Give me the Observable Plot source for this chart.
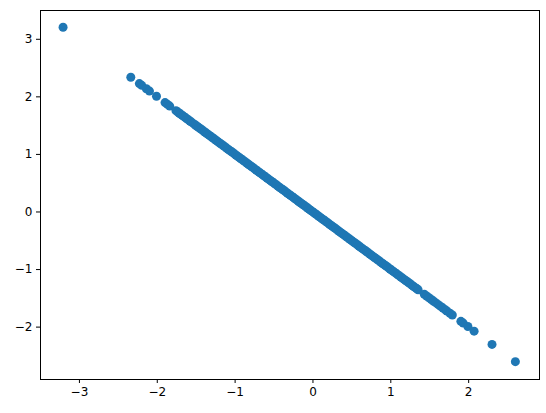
<!DOCTYPE html>
<html>
<head>
<meta charset="utf-8">
<script src="https://cdn.jsdelivr.net/npm/d3@7"></script>
<script src="https://cdn.jsdelivr.net/npm/@observablehq/plot@0.6"></script>
<style>
  html, body { margin: 0; padding: 0; background: #fff; }
  #chart svg { display: block; }
</style>
</head>
<body>
<div id="chart"></div>
<script>
const xValues = [
  -3.21, -2.34, -2.23, -2.20, -2.14, -2.10, -2.01, -1.90, -1.87, -1.84,
  -1.76, -1.74, -1.72, -1.70, -1.68, -1.66, -1.64, -1.62, -1.60, -1.58,
  -1.56, -1.53, -1.51, -1.49, -1.47, -1.45, -1.43, -1.41, -1.39, -1.37,
  -1.35, -1.33, -1.31, -1.29, -1.27, -1.25, -1.23, -1.21, -1.19, -1.17,
  -1.15, -1.13, -1.11, -1.09, -1.07, -1.05, -1.03, -1.01, -0.99, -0.97,
  -0.95, -0.93, -0.91, -0.89, -0.87, -0.85, -0.83, -0.81, -0.79, -0.77,
  -0.75, -0.73, -0.71, -0.69, -0.67, -0.65, -0.63, -0.61, -0.59, -0.57,
  -0.55, -0.53, -0.51, -0.49, -0.47, -0.45, -0.43, -0.41, -0.39, -0.37,
  -0.35, -0.33, -0.31, -0.29, -0.27, -0.25, -0.23, -0.21, -0.19, -0.17,
  -0.15, -0.13, -0.11, -0.09, -0.07, -0.05, -0.03, -0.01, 0.01, 0.03,
  0.05, 0.07, 0.09, 0.11, 0.13, 0.15, 0.17, 0.19, 0.21, 0.23,
  0.25, 0.27, 0.29, 0.31, 0.33, 0.35, 0.37, 0.39, 0.41, 0.43,
  0.45, 0.47, 0.49, 0.51, 0.53, 0.55, 0.57, 0.59, 0.61, 0.63,
  0.65, 0.67, 0.69, 0.71, 0.73, 0.75, 0.77, 0.79, 0.81, 0.83,
  0.85, 0.87, 0.89, 0.91, 0.93, 0.95, 0.97, 0.99, 1.01, 1.03,
  1.05, 1.07, 1.09, 1.11, 1.13, 1.15, 1.17, 1.19, 1.21, 1.23,
  1.25, 1.27, 1.29, 1.31, 1.33, 1.35, 1.43, 1.46, 1.49, 1.52,
  1.55, 1.58, 1.61, 1.64, 1.67, 1.70, 1.72, 1.76, 1.79, 1.90,
  1.93, 1.99, 2.07, 2.30, 2.60
];
const yValues = [
  3.21, 2.34, 2.23, 2.20, 2.14, 2.10, 2.01, 1.90, 1.87, 1.84,
  1.76, 1.74, 1.72, 1.70, 1.68, 1.66, 1.64, 1.62, 1.60, 1.58,
  1.56, 1.53, 1.51, 1.49, 1.47, 1.45, 1.43, 1.41, 1.39, 1.37,
  1.35, 1.33, 1.31, 1.29, 1.27, 1.25, 1.23, 1.21, 1.19, 1.17,
  1.15, 1.13, 1.11, 1.09, 1.07, 1.05, 1.03, 1.01, 0.99, 0.97,
  0.95, 0.93, 0.91, 0.89, 0.87, 0.85, 0.83, 0.81, 0.79, 0.77,
  0.75, 0.73, 0.71, 0.69, 0.67, 0.65, 0.63, 0.61, 0.59, 0.57,
  0.55, 0.53, 0.51, 0.49, 0.47, 0.45, 0.43, 0.41, 0.39, 0.37,
  0.35, 0.33, 0.31, 0.29, 0.27, 0.25, 0.23, 0.21, 0.19, 0.17,
  0.15, 0.13, 0.11, 0.09, 0.07, 0.05, 0.03, 0.01, -0.01, -0.03,
  -0.05, -0.07, -0.09, -0.11, -0.13, -0.15, -0.17, -0.19, -0.21, -0.23,
  -0.25, -0.27, -0.29, -0.31, -0.33, -0.35, -0.37, -0.39, -0.41, -0.43,
  -0.45, -0.47, -0.49, -0.51, -0.53, -0.55, -0.57, -0.59, -0.61, -0.63,
  -0.65, -0.67, -0.69, -0.71, -0.73, -0.75, -0.77, -0.79, -0.81, -0.83,
  -0.85, -0.87, -0.89, -0.91, -0.93, -0.95, -0.97, -0.99, -1.01, -1.03,
  -1.05, -1.07, -1.09, -1.11, -1.13, -1.15, -1.17, -1.19, -1.21, -1.23,
  -1.25, -1.27, -1.29, -1.31, -1.33, -1.35, -1.43, -1.46, -1.49, -1.52,
  -1.55, -1.58, -1.61, -1.64, -1.67, -1.70, -1.72, -1.76, -1.79, -1.90,
  -1.93, -1.99, -2.07, -2.30, -2.60
];
const xTicks = [-3, -2, -1, 0, 1, 2];
const yTicks = [-2, -1, 0, 1, 2, 3];

const data = xValues.map((x, i) => ({x, y: yValues[i]}));
const fmt = d => (d < 0 ? "\u2212" + Math.abs(d) : String(d));

const chart = Plot.plot({
  width: 546,
  height: 413,
  marginLeft: 40,
  marginRight: 7,
  marginTop: 10,
  marginBottom: 34,
  style: {fontFamily: "DejaVu Sans", fontSize: "12px", color: "#000", background: "#fff"},
  x: {domain: [-3.50, 2.91]},
  y: {domain: [-2.91, 3.50]},
  marks: [
    Plot.dot(data, {x: "x", y: "y", r: 4.5, fill: "#1f77b4", stroke: "none"}),
    Plot.frame({stroke: "#000", strokeWidth: 1}),
    Plot.axisX({ticks: xTicks, tickFormat: fmt, tickSize: 4, tickPadding: 4, label: null, fontSize: 12}),
    Plot.axisY({ticks: yTicks, tickFormat: fmt, tickSize: 4, tickPadding: 4, label: null, fontSize: 12})
  ]
});
document.getElementById("chart").appendChild(chart);
</script>
</body>
</html>
